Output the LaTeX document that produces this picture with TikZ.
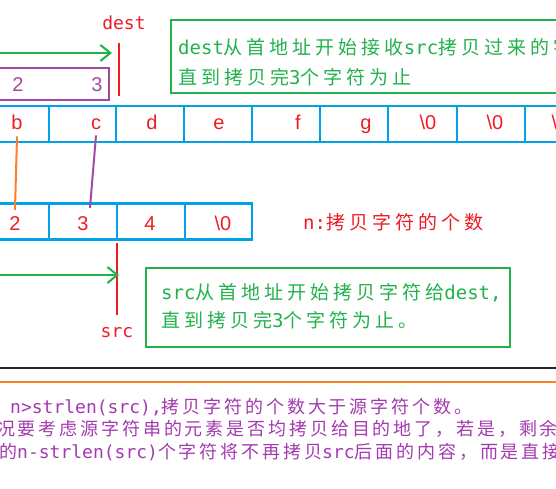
\documentclass[tikz,border=0pt]{standalone}
\usepackage{fontspec}
\setmainfont{Liberation Sans}
\newfontfamily\cjkA[LetterSpace=21]{Noto Sans CJK SC}
\newfontfamily\cjkB[LetterSpace=16]{Noto Sans CJK SC}
\newfontfamily\mn{DejaVu Sans Mono}
\usetikzlibrary{arrows.meta}
\definecolor{pred}{HTML}{ED1C24}
\definecolor{pgreen}{HTML}{22B14C}
\definecolor{pblue}{HTML}{00A2E8}
\definecolor{porange}{HTML}{FF7F27}
\definecolor{ppurple}{HTML}{A349A4}
\definecolor{tpurple}{HTML}{A33AAF}
\tikzset{
  cellbox/.style={draw=pblue, line width=2.5pt, minimum height=36pt, inner sep=0pt, outer sep=0pt},
  lbl/.style={text=pred, font=\fontsize{20}{22}\selectfont, inner sep=0pt, anchor=base},
  gbox/.style={draw=pgreen, line width=2pt, inner sep=0pt, outer sep=0pt, anchor=north west},
  gtext/.style={text=pgreen, font=\fontsize{19}{22}\selectfont, inner sep=0pt, anchor=base west},
  ptext/.style={text=tpurple, font=\fontsize{18}{22}\selectfont, inner sep=0pt, anchor=base west},
  garrow/.style={draw=pgreen, line width=2pt, -{Straight Barb[length=10pt,width=16pt,line width=2pt]}},
  rline/.style={draw=pred, line width=2pt},
}
\begin{document}
\begin{tikzpicture}[x=1pt,y=-1pt]
\useasboundingbox (0,0) rectangle (556,489);
\clip (0,0) rectangle (556,489);
% top array (dest)
\foreach \a/\b/\n in {-19/49/1,49/116/2,116/184/3,184/252/4,252/320/5,320/388/6,388/457/7,457/525/8,525/593/9}
  \node[cellbox, minimum width={(\b)-(\a)}] (t\n) at ({(\a+\b)/2},124) {};
\node[lbl] (lb) at (17,130) {b};
\node[lbl] (lc) at (96,130) {c};
\node[lbl] (ld) at (152,130) {d};
\node[lbl] (le) at (219,130) {e};
\node[lbl] (lf) at (298,130) {f};
\node[lbl] (lg) at (366,130) {g};
\node[lbl] (lz1) at (428,130) {\textbackslash 0};
\node[lbl] (lz2) at (495,130) {\textbackslash 0};
\node[lbl] (lz3) at (560,130) {\textbackslash 0};
% bottom array (src)
\foreach \a/\b/\n in {-19/49/1,49/117/2,117/185/3,185/252/4}
  \node[cellbox, minimum width={(\b)-(\a)}] (s\n) at ({(\a+\b)/2},221.5) {};
\node[lbl] (s2l) at (15,230) {2};
\node[lbl] (s3l) at (83,230) {3};
\node[lbl] (s4l) at (150,230) {4};
\node[lbl] (s0l) at (223,230) {\textbackslash 0};
% purple box
\node[draw=ppurple, line width=2pt, inner sep=0pt, anchor=north west, minimum width=138pt, minimum height=32pt] (pbox) at (-30,67) {};
\node[text=ppurple, font=\fontsize{20}{22}\selectfont, inner sep=0pt, anchor=base] (p2) at (18,92) {2};
\node[text=ppurple, font=\fontsize{20}{22}\selectfont, inner sep=0pt, anchor=base] (p3) at (97,92) {3};
% connectors b->2, c->3
\draw[draw=porange, line width=2pt] ([yshift=-6pt]lb.south) -- ([yshift=6pt]s2l.north);
\draw[draw=ppurple, line width=2pt] ([yshift=-5pt]lc.south) -- ([xshift=7pt,yshift=8pt]s3l.north);
% dest pointer
\node[text=pred, font=\mn\fontsize{18}{20}\selectfont, inner sep=0pt, anchor=base] (dest) at (124,30) {dest};
\coordinate (dtop) at (119,43);
\coordinate (dbot) at (119,96);
\draw[rline] (dtop) -- (dbot);
\coordinate (a1s) at (-5,53);
\coordinate (a1e) at (112,53);
\draw[garrow] (a1s) -- (a1e);
% src pointer
\node[text=pred, font=\mn\fontsize{18}{20}\selectfont, inner sep=0pt, anchor=base] (src) at (117,337) {src};
\coordinate (stop) at (117,243);
\coordinate (sbot) at (117,315);
\draw[rline] (stop) -- (sbot);
\coordinate (a2s) at (-5,275);
\coordinate (a2e) at (119,275);
\draw[garrow] (a2s) -- (a2e);
% green box 1
\node[gbox, minimum width=430pt, minimum height=73pt] (box1) at (171,20) {};
\node[gtext] (b1l1) at (178,55) {\mn dest\cjkA 从首地址开始接收\mn src\cjkA 拷贝过来的字符};
\node[gtext] (b1l2) at (178,85) {\cjkA 直到拷贝完\mn 3\cjkA 个字符为止};
% green box 2
\node[gbox, minimum width=364pt, minimum height=79pt] (box2) at (146,268) {};
\node[gtext] (b2l1) at (161,299) {\mn src\cjkA 从首地址开始拷贝字符给\mn dest,};
\node[gtext] (b2l2) at (161,327) {\cjkA 直到拷贝完\mn 3\cjkA 个字符为止。};
% n label
\node[gtext, text=pred] (nlab) at (303,229) {\mn n:\cjkA 拷贝字符的个数};
% separator lines
\coordinate (bl1) at (0,368);
\coordinate (bl2) at (556,368);
\draw[draw=black!85, line width=1.5pt] (bl1) -- (bl2);
\coordinate (ol1) at (0,382);
\coordinate (ol2) at (556,382);
\draw[draw=porange, line width=2pt] (ol1) -- (ol2);
% bottom purple text
\node[ptext] (t1) at (10,413) {\mn n>strlen(src),\cjkB 拷贝字符的个数大于源字符个数。};
\node[ptext] (t2) at (-24,435) {\cjkB 情况要考虑源字符串的元素是否均拷贝给目的地了，若是，剩余};
\node[ptext] (t3) at (-1,458) {\cjkB 的\mn n-strlen(src)\cjkB 个字符将不再拷贝\mn src\cjkB 后面的内容，而是直接};
\end{tikzpicture}
\end{document}
